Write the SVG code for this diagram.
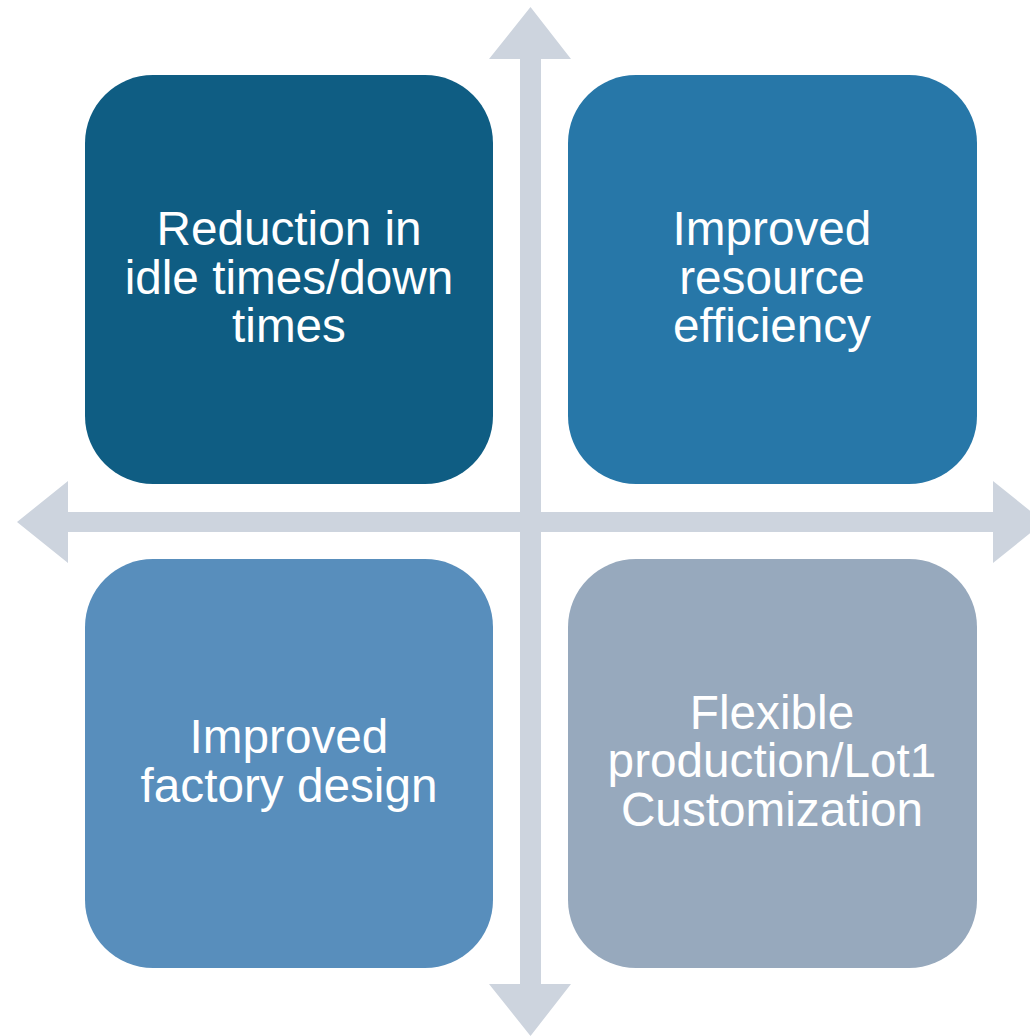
<svg xmlns="http://www.w3.org/2000/svg" width="1030" height="1036" viewBox="0 0 1030 1036">
<style>
.arrow{fill:#cdd4de}
.box text{font-family:"Liberation Sans",Arial,sans-serif;font-size:47.7px;fill:#ffffff;text-anchor:middle}
</style>
<rect width="1030" height="1036" fill="#ffffff"/>
<g id="connectors">
<polygon class="arrow" points="530.5,7 571,59 541,59 541,984 571,984 530.5,1036 489,984 520,984 520,59 489,59"/>
<polygon class="arrow" points="17,522 68,481 68,512 993,512 993,481 1044,522 993,563 993,532 68,532 68,563"/>
</g>
<g id="node-reduction" class="box">
<rect x="85" y="75" width="408" height="409" rx="68" fill="#0f5d83"/>
<text x="289" y="245">Reduction in</text>
<text x="289" y="294">idle times/down</text>
<text x="289" y="342">times</text>
</g>
<g id="node-resource" class="box">
<rect x="568" y="75" width="409" height="409" rx="68" fill="#2777a8"/>
<text x="772" y="245">Improved</text>
<text x="772" y="294">resource</text>
<text x="772" y="342">efficiency</text>
</g>
<g id="node-factory" class="box">
<rect x="85" y="559" width="408" height="409" rx="68" fill="#588ebc"/>
<text x="289" y="753">Improved</text>
<text x="289" y="802">factory design</text>
</g>
<g id="node-flexible" class="box">
<rect x="568" y="559" width="409" height="409" rx="68" fill="#97a9bd"/>
<text x="772" y="729">Flexible</text>
<text x="772" y="777">production/Lot1</text>
<text x="772" y="826">Customization</text>
</g>
</svg>
